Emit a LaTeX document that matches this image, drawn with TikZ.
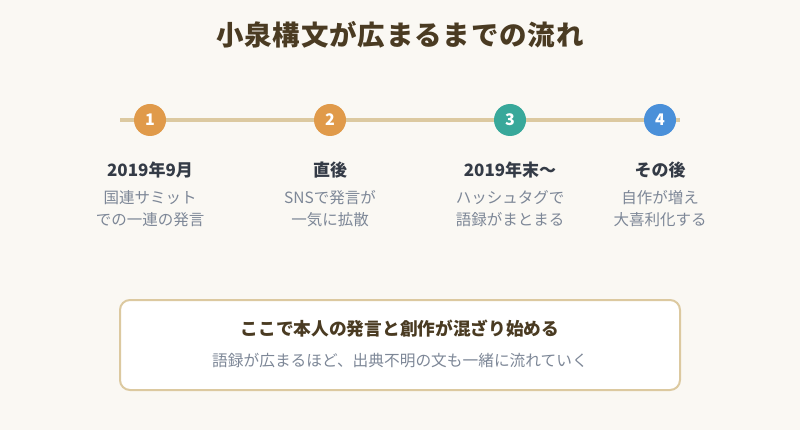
\documentclass[tikz,border=0pt]{standalone}
\usepackage{fontspec}
\setmainfont{Noto Sans CJK JP}
\newfontfamily\titlefont[LetterSpace=3]{Noto Sans CJK JP}
\definecolor{bg}{HTML}{FAF8F3}
\definecolor{titlec}{HTML}{4A3B22}
\definecolor{headc}{HTML}{343B46}
\definecolor{greyc}{HTML}{7D8797}
\definecolor{linec}{HTML}{DCC9A0}
\definecolor{orangec}{HTML}{E09A4A}
\definecolor{tealc}{HTML}{38A89A}
\definecolor{bluec}{HTML}{4A90D9}
\tikzset{
  dot/.style={circle, minimum size=32pt, inner sep=0pt, text=white, font=\fontsize{16}{16}\selectfont\bfseries},
  head/.style={text=headc, font=\fontsize{17}{20}\selectfont\bfseries, inner sep=0pt},
  sub/.style={text=greyc, font=\fontsize{15.5}{22}\selectfont, align=center, inner sep=0pt},
}
\begin{document}
\begin{tikzpicture}[x=1pt,y=-1pt]
\fill[bg] (0,0) rectangle (800,430);
\useasboundingbox (0,0) rectangle (800,430);
\node[text=titlec, font=\fontsize{27.5}{30}\selectfont\titlefont\bfseries, inner sep=0pt] (title) at (400,35) {小泉構文が広まるまでの流れ};
\coordinate (ls) at (120,120);
\coordinate (le) at (680,120);
\draw[linec, line width=4pt] (ls) -- (le);
\node[dot, fill=orangec] (d1) at (150,120) {1};
\node[dot, fill=orangec] (d2) at (330,120) {2};
\node[dot, fill=tealc] (d3) at (510,120) {3};
\node[dot, fill=bluec] (d4) at (660,120) {4};
\node[head] (h1) at (150,170) {2019年9月};
\node[head] (h2) at (330,170) {直後};
\node[head] (h3) at (510,170) {2019年末〜};
\node[head] (h4) at (660,170) {その後};
\node[sub] (s1) at (150,209) {国連サミット\\での一連の発言};
\node[sub] (s2) at (330,209) {SNSで発言が\\一気に拡散};
\node[sub] (s3) at (510,209) {ハッシュタグで\\語録がまとまる};
\node[sub] (s4) at (660,209) {自作が増え\\大喜利化する};
\node[draw=linec, line width=2pt, fill=white, rounded corners=10pt, minimum width=560pt, minimum height=90pt, inner sep=0pt] (box) at (400,345) {};
\node[text=titlec, font=\fontsize{17.7}{20}\selectfont\bfseries, inner sep=0pt] (bt) at (400,329) {ここで本人の発言と創作が混ざり始める};
\node[text=greyc, font=\fontsize{15.7}{20}\selectfont, inner sep=0pt] (bs) at (400,361) {語録が広まるほど、出典不明の文も一緒に流れていく};
\end{tikzpicture}
\end{document}
